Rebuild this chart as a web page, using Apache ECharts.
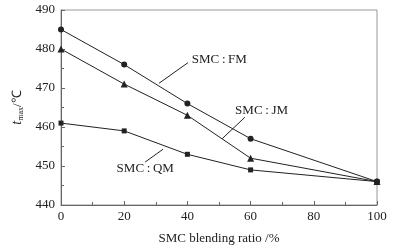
<!DOCTYPE html>
<html>
<head>
<meta charset="utf-8">
<script src="https://cdn.jsdelivr.net/npm/echarts@6/dist/echarts.min.js"></script>
<style>
  html, body { margin: 0; padding: 0; background: #fff; }
  #main { width: 400px; height: 250px; }
</style>
</head>
<body>
<div id="main"></div>
<script>
// blending ratio (%)
var ratios = [0, 20, 40, 60, 100];
var fmValues = [485, 476, 466, 457, 446];
var jmValues = [480, 471, 463, 452, 446];
var qmValues = [461, 459, 453, 449, 446];

// annotation labels: [text x, text y], leader line from -> to
var fmNote = { text: 'SMC\u2009:\u2009FM', at: [41.4, 477.3], line: [[40.2, 476.5], [31.0, 471.2]] };
var jmNote = { text: 'SMC\u2009:\u2009JM', at: [55.1, 464.3], line: [[58.2, 462.5], [51.0, 457.0]] };
var qmNote = { text: 'SMC\u2009:\u2009QM', at: [17.6, 449.3], line: [[26.6, 451.0], [32.3, 454.3]] };

var font = 'Liberation Serif';
var ink = '#222';

function pairs(xs, ys) {
    return xs.map(function (x, i) { return [x, ys[i]]; });
}

function note(n) {
    return {
        markLine: {
            silent: true,
            symbol: 'none',
            animation: false,
            label: { show: false },
            lineStyle: { color: ink, width: 1, type: 'solid' },
            data: [[{ coord: n.line[0] }, { coord: n.line[1] }]]
        },
        markPoint: {
            silent: true,
            symbol: 'circle',
            symbolSize: 0,
            animation: false,
            label: {
                show: true,
                position: 'right',
                distance: 0,
                formatter: n.text,
                color: ink,
                fontFamily: font,
                fontSize: 13
            },
            data: [{ coord: n.at }]
        }
    };
}

function makeSeries(name, ys, symbol, size, n) {
    var s = {
        name: name,
        type: 'line',
        data: pairs(ratios, ys),
        symbol: symbol,
        symbolSize: size,
        itemStyle: { color: ink },
        lineStyle: { color: ink, width: 1 },
        animation: false
    };
    var extra = note(n);
    s.markLine = extra.markLine;
    s.markPoint = extra.markPoint;
    return s;
}

var chart = echarts.init(document.getElementById('main'));
chart.setOption({
    backgroundColor: '#fff',
    grid: {
        left: 61, right: 23, top: 10, bottom: 40,
        show: true,
        borderColor: '#999',
        borderWidth: 1
    },
    xAxis: {
        type: 'value',
        min: 0, max: 100, interval: 20,
        name: 'SMC blending ratio /%',
        nameLocation: 'middle',
        nameGap: 27,
        nameTextStyle: { fontFamily: font, fontSize: 13, color: ink },
        axisLine: { lineStyle: { color: '#666' } },
        axisTick: { inside: true, length: 4, lineStyle: { color: '#666' } },
        minorTick: { show: true, splitNumber: 2, length: 3, lineStyle: { color: '#666' } },
        axisLabel: { fontFamily: font, fontSize: 13, color: ink, margin: 5 },
        splitLine: { show: false }
    },
    yAxis: {
        type: 'value',
        min: 440, max: 490, interval: 10,
        name: '{i|t}{s|max}{n|/\u2103}',
        nameLocation: 'middle',
        nameGap: 35,
        nameTextStyle: {
            fontFamily: font, fontSize: 13, color: ink,
            rich: {
                i: { fontFamily: font, fontSize: 14, fontStyle: 'italic', color: ink },
                s: { fontFamily: font, fontSize: 8, color: ink, verticalAlign: 'bottom', padding: [7, 0, 0, 0] },
                n: { fontFamily: font, fontSize: 13, color: ink }
            }
        },
        axisLine: { show: true, lineStyle: { color: '#666' } },
        axisTick: { show: true, inside: true, length: 4, lineStyle: { color: '#666' } },
        minorTick: { show: true, splitNumber: 2, length: 3, lineStyle: { color: '#666' } },
        axisLabel: { fontFamily: font, fontSize: 13, color: ink, margin: 6 },
        splitLine: { show: false }
    },
    series: [
        makeSeries('SMC:FM', fmValues, 'circle', 6, fmNote),
        makeSeries('SMC:JM', jmValues, 'triangle', 7, jmNote),
        makeSeries('SMC:QM', qmValues, 'rect', 5, qmNote)
    ]
});
</script>
</body>
</html>
